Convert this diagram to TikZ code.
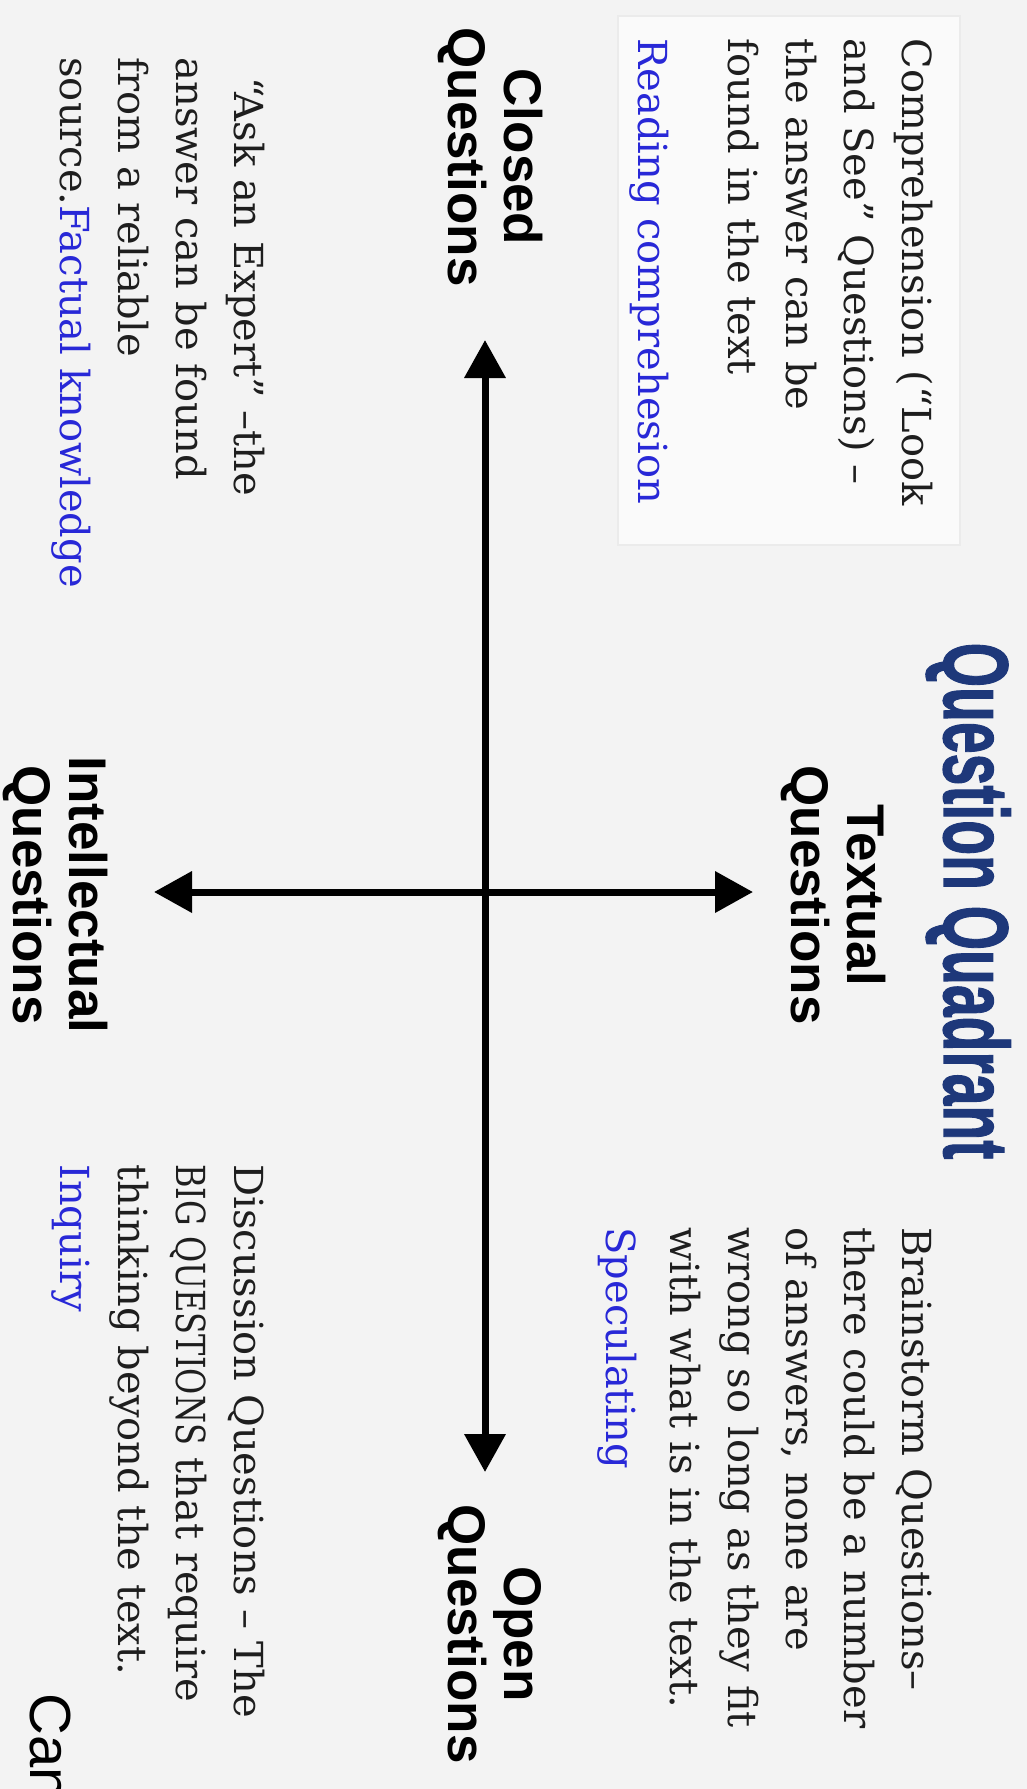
\documentclass[tikz,border=0pt]{standalone}
\usepackage{graphicx}
\usepackage{fontspec}
\setmainfont{DejaVu Serif}
\newfontfamily\sansf{Liberation Sans}
\newfontfamily\titlef[FakeBold=1.5]{Liberation Sans Bold}
\usetikzlibrary{arrows.meta}
\definecolor{bg}{HTML}{F3F3F3}
\definecolor{boxc}{HTML}{FAFAFA}
\definecolor{boxline}{HTML}{EBEBEB}
\definecolor{navy}{RGB}{30,56,122}
\definecolor{linkblue}{RGB}{40,40,215}
\definecolor{ink}{HTML}{1E1E1E}
\newcommand{\bodyfont}{\fontsize{20pt}{29pt}\selectfont}
\newcommand{\lk}[1]{\textcolor{linkblue}{#1}}
\begin{document}
\begin{tikzpicture}[x=0.5pt,y=-0.5pt,
  txt/.style={rotate=-90, inner sep=0pt, anchor=base west, text=ink, font=\bodyfont},
  lbl/.style={rotate=-90, inner sep=0pt, align=center, text=black,
              font=\sansf\bfseries\fontsize{26.5pt}{28pt}\selectfont},
  titlestyle/.style={rotate=-90, inner sep=0pt, anchor=base, text=navy,
              font=\titlef\fontsize{46pt}{46pt}\selectfont},
  axis/.style={line width=3.5pt, draw=black,
              {Triangle[width=20pt,length=19pt]}-{Triangle[width=20pt,length=19pt]}}]
\fill[bg] (0,0) rectangle (1027,1789);
\useasboundingbox (0,0) rectangle (1027,1789);
\draw[draw=boxline, fill=boxc, line width=0.75pt] (618,16) rectangle (960,545);

% title
\node[titlestyle] (title) at (944,901) {\scalebox{0.62}[1]{Question Quadrant}};

% axis labels
\node[lbl] (closed) at (490,157) {Closed\\Questions};
\node[lbl] (open) at (490,1634) {Open\\Questions};
\node[lbl] (textual) at (833,895) {Textual\\Questions};
\node[lbl] (intel) at (55,895) {Intellectual\\Questions};

% axes
\coordinate (vt) at (485,340);
\coordinate (vb) at (485,1472);
\coordinate (hl) at (154,892);
\coordinate (hr) at (753,892);
\draw[axis] (vt) -- (vb);
\draw[axis] (hl) -- (hr);

% quadrant texts
\node[txt] (comp) at (902,38) {\begin{tabular}[t]{@{}l@{}}Comprehension (“Look\\ and See” Questions) –\\ the answer can be\\ found in the text\\[16pt] \lk{Reading comprehesion}\end{tabular}};
\node[txt] (expert) at (234,57) {\begin{tabular}[t]{@{}l@{}}\hspace*{10pt}“Ask an Expert” –the\\ answer can be found\\ from a reliable\\ source.\lk{Factual knowledge}\end{tabular}};
\node[txt] (brain) at (902,1227) {\begin{tabular}[t]{@{}l@{}}Brainstorm Questions–\\ there could be a number\\ of answers, none are\\ wrong so long as they fit\\ with what is in the text.\\[3pt] \lk{Speculating}\end{tabular}};
\node[txt] (disc) at (234,1164) {\begin{tabular}[t]{@{}l@{}}Discussion Questions – The\\ \scalebox{0.8}[1]{BIG QUESTIONS} that require\\ thinking beyond the text.\\ \lk{Inquiry}\end{tabular}};

\node[rotate=-90, inner sep=0pt, anchor=base west, text=black,
      font=\sansf\fontsize{29pt}{29pt}\selectfont] (can) at (30,1693) {Can};
\end{tikzpicture}
\end{document}
